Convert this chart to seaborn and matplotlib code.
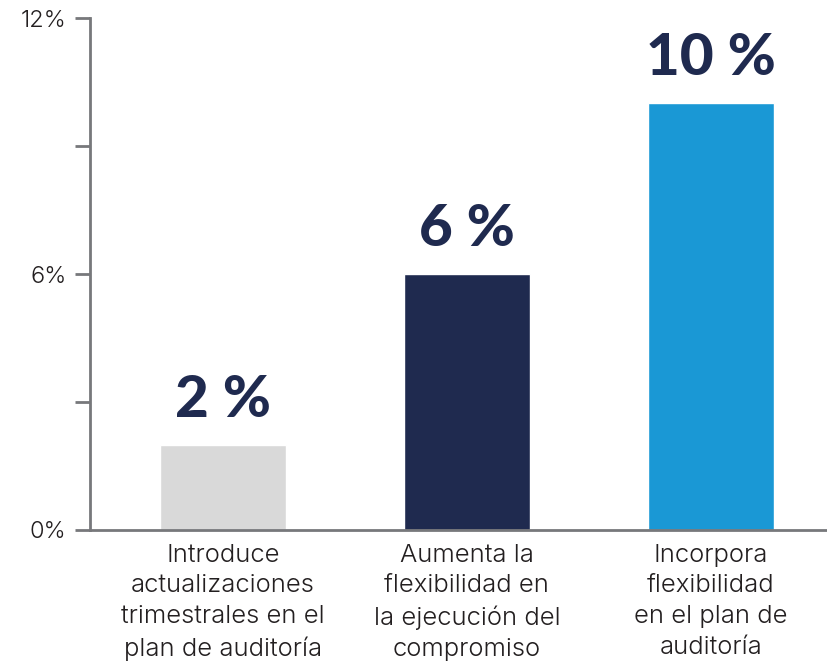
import matplotlib
matplotlib.use("Agg")
import pandas as pd
import seaborn as sns
import matplotlib.pyplot as plt

categories = [
    "Introduce\nactualizaciones\ntrimestrales en el\nplan de auditoría",
    "Aumenta la\nflexibilidad en\nla ejecución del\ncompromiso",
    "Incorpora\nflexibilidad\nen el plan de\nauditoría",
]
values = [2, 6, 10]
value_labels = ["2 %", "6 %", "10 %"]
bar_colors = ["#d9d9d9", "#1f2a4f", "#1a98d5"]
yticks = [0, 3, 6, 9, 12]
ytick_labels = ["0%", "", "6%", "", "12%"]

sns.set_style("white")
plt.rcParams["font.family"] = ["Inter", "DejaVu Sans"]

df = pd.DataFrame({"categoria": categories, "valor": values})

fig = plt.figure(figsize=(8.28, 6.69), dpi=100)
ax = fig.add_axes([0.1087, 0.2078, 0.8913, 0.7652])

sns.barplot(data=df, x="categoria", y="valor", hue="categoria",
            palette=bar_colors, width=0.517, legend=False, ax=ax, saturation=1)

for i, (v, lab) in enumerate(zip(values, value_labels)):
    ax.text(i, v + 0.42, lab, ha="center", va="bottom", fontsize=42,
            fontweight="black", color="#1f2a4f", family=["Lato", "DejaVu Sans"])

ax.set_ylim(0, 12)
ax.set_xlim(-0.545, 2.48)
ax.set_yticks(yticks)
ax.set_yticklabels(ytick_labels, fontsize=17, fontweight=300, color="#231f20")
ax.set_xticks(range(len(categories)))
ax.set_xticklabels(categories, fontsize=18.5, fontweight=300, color="#231f20",
                   linespacing=1.42)
ax.set_xlabel("")
ax.set_ylabel("")

for side in ["top", "right"]:
    ax.spines[side].set_visible(False)
for side in ["left", "bottom"]:
    ax.spines[side].set_color("#77787b")
    ax.spines[side].set_linewidth(2)

ax.tick_params(axis="y", length=11, width=2, color="#77787b", pad=6, left=True)
ax.tick_params(axis="x", length=0, pad=10)

fig.savefig("out.png", dpi=100)
